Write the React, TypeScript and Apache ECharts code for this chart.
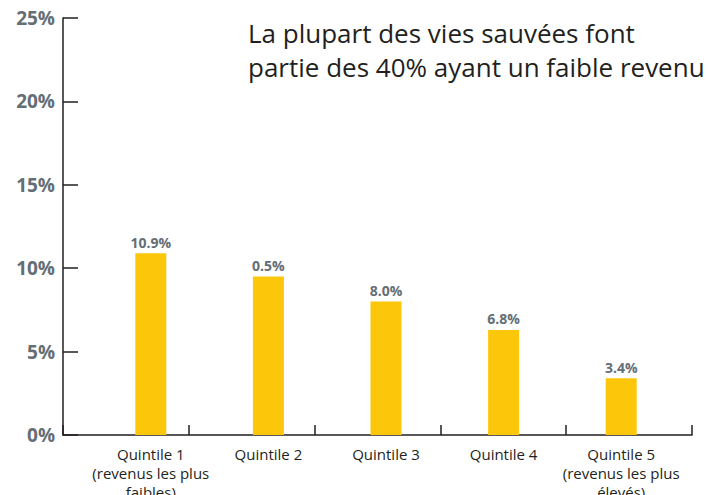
import { useEffect, useRef } from "react";
import * as echarts from "echarts";

const categories = [
  "Quintile 1\n(revenus les plus\nfaibles)",
  "Quintile 2",
  "Quintile 3",
  "Quintile 4",
  "Quintile 5\n(revenus les plus\nélevés)",
];
const values = [10.9, 9.5, 8.0, 6.3, 3.4];
const valueLabels = ["10.9%", "0.5%", "8.0%", "6.8%", "3.4%"];
const titleText = "La plupart des vies sauvées font\npartie des 40% ayant un faible revenu";

export default function App() {
  const ref = useRef<HTMLDivElement>(null);
  useEffect(() => {
    document.body.style.margin = "0";
    const chart = echarts.init(ref.current!, undefined, { renderer: "svg" });
    const font = "'Open Sans', 'Noto Sans', sans-serif";
    chart.setOption({
      animation: false,
      backgroundColor: "#ffffff",
      textStyle: { fontFamily: font },
      title: {
        text: titleText,
        left: 243,
        top: 11,
        textStyle: {
          fontFamily: font,
          fontSize: 26,
          fontWeight: "normal",
          color: "#231f20",
          lineHeight: 34,
        },
      },
      grid: [
        { left: 63, right: 16, top: 18, bottom: 60, containLabel: false, outerBoundsMode: "none" },
        { left: 92, right: 28, top: 18, bottom: 60, containLabel: false, outerBoundsMode: "none" },
      ],
      xAxis: [
        {
          type: "category",
          gridIndex: 0,
          data: categories,
          boundaryGap: true,
          axisLine: { show: true, lineStyle: { color: "#231f20", width: 1.5 } },
          axisTick: { show: true, inside: true, length: 10, lineStyle: { color: "#231f20", width: 1.5 } },
          axisLabel: { show: false },
          splitLine: { show: false },
        },
        {
          type: "category",
          gridIndex: 1,
          data: categories,
          axisLine: { show: false },
          axisTick: { show: false },
          axisLabel: {
            show: true,
            interval: 0,
            fontFamily: font,
            fontSize: 15,
            lineHeight: 19,
            color: "#231f20",
            margin: 9,
          },
        },
      ],
      yAxis: [
        {
          type: "value",
          gridIndex: 0,
          min: 0,
          max: 25,
          interval: 5,
          axisLine: { show: true, lineStyle: { color: "#231f20", width: 1.5 } },
          axisTick: { show: true, inside: true, length: 15, lineStyle: { color: "#231f20", width: 1.5 } },
          splitLine: { show: false },
          axisLabel: {
            formatter: "{value}%",
            fontFamily: font,
            fontSize: 19,
            fontWeight: "bold",
            color: "#646e75",
            margin: 8,
          },
        },
        {
          type: "value",
          gridIndex: 1,
          min: 0,
          max: 25,
          interval: 5,
          show: false,
          splitLine: { show: false },
        },
      ],
      series: [
        {
          type: "bar",
          xAxisIndex: 1,
          yAxisIndex: 1,
          data: values,
          barWidth: 31,
          itemStyle: { color: "#fcc70a" },
          label: {
            show: true,
            position: "top",
            distance: 4,
            formatter: (p: any) => valueLabels[p.dataIndex],
            fontFamily: font,
            fontSize: 14,
            fontWeight: "bold",
            color: "#646e75",
          },
        },
      ],
    });
    return () => chart.dispose();
  }, []);
  return (
    <div
      ref={ref}
      style={{ position: "absolute", left: 0, top: 0, width: 708, height: 495 }}
    />
  );
}
